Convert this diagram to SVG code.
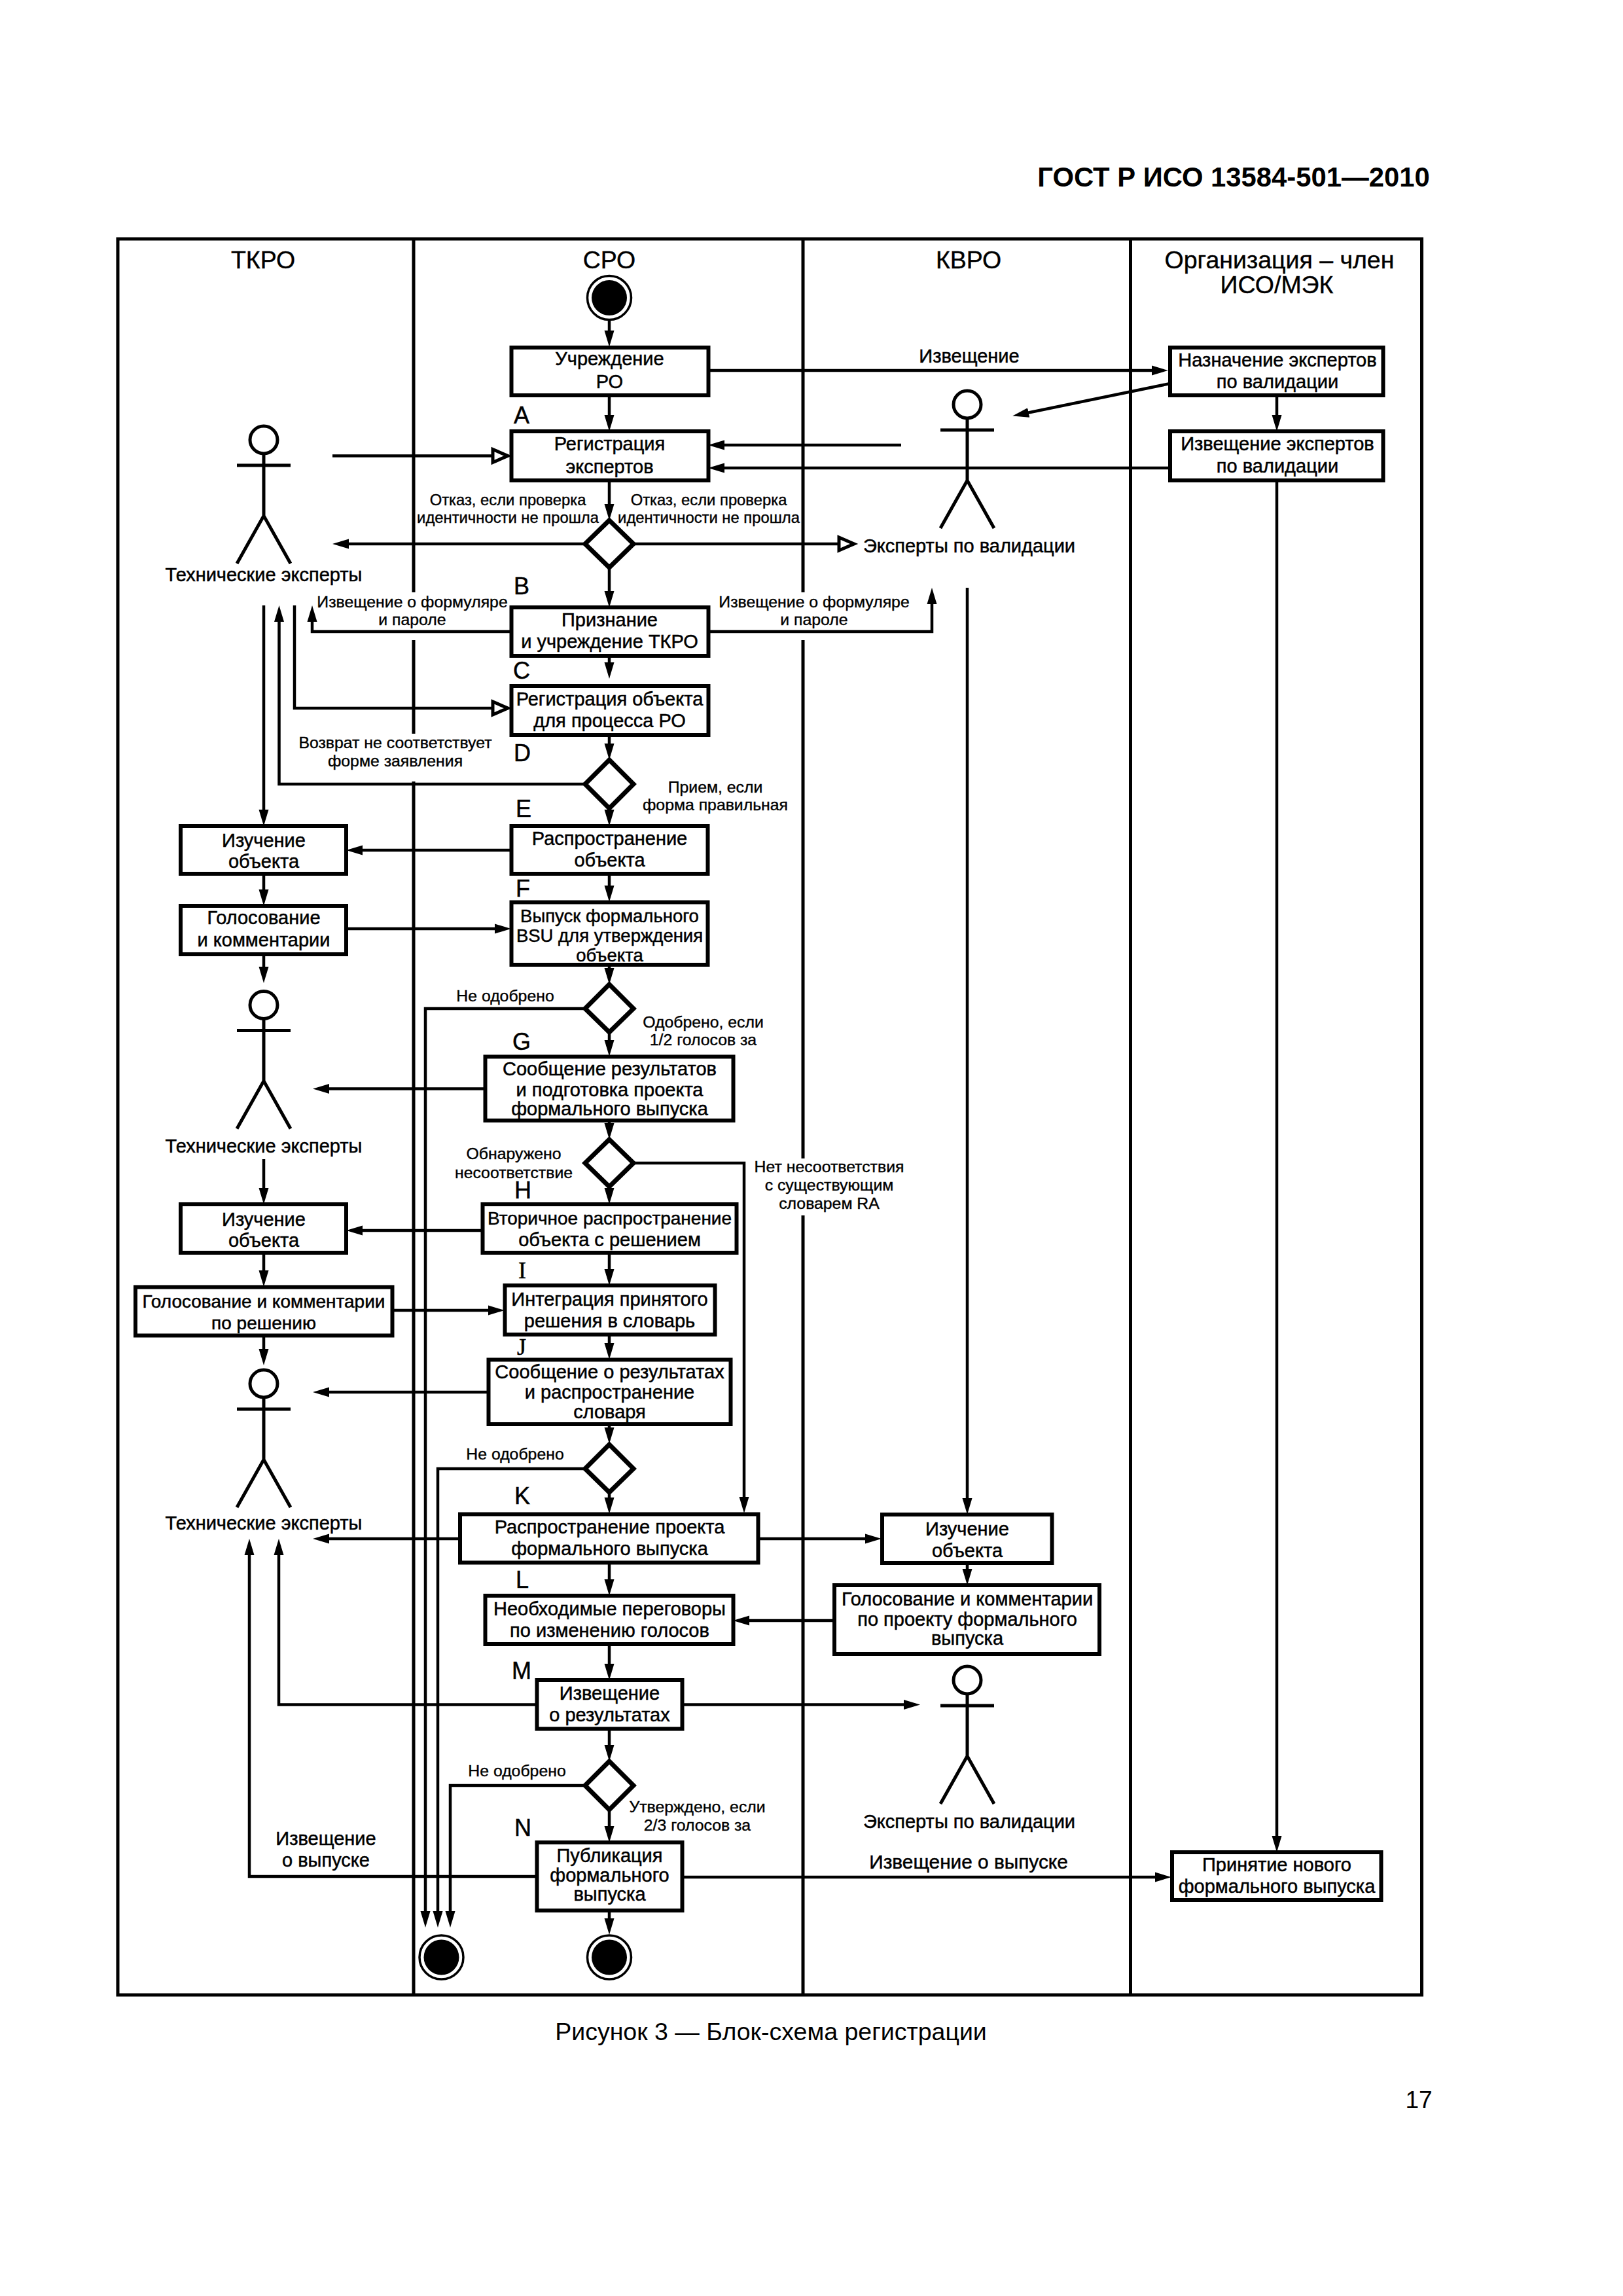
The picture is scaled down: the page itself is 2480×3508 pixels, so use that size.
<svg xmlns="http://www.w3.org/2000/svg" width="2480" height="3508" viewBox="0 0 2480 3508">
<style>
text{font-family:"Liberation Sans",Arial,sans-serif;fill:#000;text-anchor:middle}
.h{font-size:37.500px;stroke:#000;stroke-width:.4}
.b{font-size:29px;stroke:#000;stroke-width:.5}
.b2{font-size:28px;stroke:#000;stroke-width:.5}
.b3{font-size:27.500px;stroke:#000;stroke-width:.5}
.s{font-size:24.800px;stroke:#000;stroke-width:.4}
.s2{font-size:23.800px;stroke:#000;stroke-width:.4}
.l{font-size:36px;text-anchor:start;stroke:#000;stroke-width:.5}
.lt{font-size:36px;text-anchor:start;font-family:"Liberation Serif",serif;stroke:#000;stroke-width:.5}
.box{fill:#fff;stroke:#000;stroke-width:6}
.dia{fill:#fff;stroke:#000;stroke-width:7}
.frame{fill:none;stroke:#000;stroke-width:5}
.c{fill:none;stroke:#000;stroke-width:4.500}
.f{marker-end:url(#arrow)}
.o{marker-end:url(#hollow)}
.act{fill:none;stroke:#000;stroke-width:5}
</style>
<defs>
<marker id="arrow" markerUnits="userSpaceOnUse" markerWidth="27" markerHeight="17" refX="15" refY="8" orient="auto"><path d="M0,0.5 L25,8 L0,15.500 z" fill="#000"/></marker>
<marker id="hollow" markerUnits="userSpaceOnUse" markerWidth="36" markerHeight="30" refX="4" refY="15" orient="auto"><path d="M4,5 L27,15 L4,25 z" fill="#fff" stroke="#000" stroke-width="5"/></marker>
<g id="actor"><circle cx="0" cy="0" r="21" class="act"/><path d="M0,21 V116 M-41,39 H41 M-41,189 L0,116 L41,189" class="act"/></g>
<g id="term"><circle cx="0" cy="0" r="33.500" fill="#fff" stroke="#000" stroke-width="3.500"/><circle cx="0" cy="0" r="27" fill="#000"/></g>
</defs>

<g id="page">
<text x="1885" y="285" font-size="41.800" font-weight="bold">ГОСТ Р ИСО 13584-501—2010</text>
<text x="1178" y="3117" font-size="37.500">Рисунок 3 — Блок-схема регистрации</text>
<text x="2168" y="3221" font-size="37">17</text>
</g>

<g id="lanes">
<rect x="180" y="365" width="1992.500" height="2683" class="frame"/>
<path d="M632 365V905M632 978V1121M632 1194V3048M1227 365V905M1227 978V1770M1227 1857V3048M1727.500 365V3048" class="frame"/>
<text x="402" y="410" class="h">ТКРО</text>
<text x="931" y="410" class="h">СРО</text>
<text x="1480" y="410" class="h">КВРО</text>
<text x="1955" y="410" class="h">Организация – член</text>
<text x="1951" y="448" class="h">ИСО/МЭК</text>
</g>

<g id="connectors">
<path class="c f" d="M931 489V520"/>
<path class="c f" d="M931 604V649"/>
<path class="c f" d="M931 734V785"/>
<path class="c f" d="M931 867V918"/>
<path class="c f" d="M931 1002V1027"/>
<path class="c f" d="M931 1123V1151"/>
<path class="c f" d="M931 1235V1252"/>
<path class="c f" d="M931 1335V1368"/>
<path class="c f" d="M931 1474V1494"/>
<path class="c f" d="M931 1577V1604"/>
<path class="c f" d="M931 1712V1731"/>
<path class="c f" d="M931 1813V1830"/>
<path class="c f" d="M931 1914V1954"/>
<path class="c f" d="M931 2039V2067"/>
<path class="c f" d="M931 2176V2196"/>
<path class="c f" d="M931 2280V2303"/>
<path class="c f" d="M931 2387V2428"/>
<path class="c f" d="M931 2512V2557"/>
<path class="c f" d="M931 2641V2681"/>
<path class="c f" d="M931 2765V2805"/>
<path class="c f" d="M931 2919V2946"/>
<path class="c f" d="M1082 566H1775"/>
<path class="c f" d="M1788 586L1557 633.500"/>
<path class="c f" d="M1951 604V649"/>
<path class="c f" d="M1951 734V2820"/>
<path class="c f" d="M1788 715H1092"/>
<path class="c f" d="M1377 680H1092"/>
<path class="c o" d="M508 696.500H753"/>
<path class="c f" d="M894 831H518"/>
<path class="c o" d="M968 831H1282"/>
<path class="c f" d="M781 965H477V935"/>
<path class="c f" d="M1082 965H1424V908"/>
<path class="c f" d="M403 925V1252"/>
<path class="c f" d="M894 1198H426.500V935"/>
<path class="c o" d="M450 925V1082H753"/>
<path class="c f" d="M403 1335V1374"/>
<path class="c f" d="M403 1458V1492"/>
<path class="c f" d="M781 1299H539"/>
<path class="c f" d="M529 1419H771"/>
<path class="c f" d="M894 1541H650V2935"/>
<path class="c f" d="M741 1663.500H488"/>
<path class="c f" d="M403 1771V1830"/>
<path class="c f" d="M737 1880H539"/>
<path class="c f" d="M403 1914V1956"/>
<path class="c f" d="M403 2040V2076"/>
<path class="c f" d="M599 2002H761"/>
<path class="c f" d="M746 2127H488"/>
<path class="c f" d="M968 1777H1137V2302"/>
<path class="c f" d="M894 2244H669V2935"/>
<path class="c f" d="M894 2728H688V2935"/>
<path class="c f" d="M703 2351H488"/>
<path class="c f" d="M1158 2351H1337"/>
<path class="c f" d="M1478 898V2304"/>
<path class="c f" d="M1478 2388V2412"/>
<path class="c f" d="M1275 2476H1130"/>
<path class="c f" d="M820 2604.500H426V2361"/>
<path class="c f" d="M1042 2604.500H1396"/>
<path class="c f" d="M820 2867H381V2361"/>
<path class="c f" d="M1042 2868H1780"/>
</g>

<g id="start"><use href="#term" x="931" y="455"/></g>
<g id="end1"><use href="#term" x="674.500" y="2990.500"/></g>
<g id="end2"><use href="#term" x="931" y="2990.500"/></g>

<g id="actor1"><use href="#actor" x="403" y="672"/><text x="403" y="888" class="b">Технические эксперты</text></g>
<g id="actor2"><use href="#actor" x="403" y="1535.500"/><text x="403" y="1761" class="b">Технические эксперты</text></g>
<g id="actor3"><use href="#actor" x="403" y="2114"/><text x="403" y="2337" class="b">Технические эксперты</text></g>
<g id="actor4"><use href="#actor" x="1478" y="618"/><text x="1481" y="844" class="b">Эксперты по валидации</text></g>
<g id="actor5"><use href="#actor" x="1478" y="2567"/><text x="1481" y="2793" class="b">Эксперты по валидации</text></g>

<g id="n-uchr"><rect x="781.500" y="531" width="301" height="73" class="box"/><text x="931.500" y="558" class="b">Учреждение</text><text x="931.500" y="592.600" class="b">РО</text></g>
<g id="n-a"><rect x="781.500" y="659" width="301" height="75" class="box"/><text x="931.500" y="688" class="b">Регистрация</text><text x="931.500" y="723" class="b">экспертов</text></g>
<g id="n-d1"><polygon points="931,795 968,831 931,867 894,831" class="dia"/></g>
<g id="n-b"><rect x="781.500" y="928" width="301" height="74" class="box"/><text x="931.500" y="957" class="b">Признание</text><text x="931.500" y="990" class="b">и учреждение ТКРО</text></g>
<g id="n-c"><rect x="781.500" y="1048" width="301" height="75" class="box"/><text x="931.500" y="1078" class="b">Регистрация объекта</text><text x="931.500" y="1111" class="b">для процесса РО</text></g>
<g id="n-d2"><polygon points="931,1161 968,1198 931,1235 894,1198" class="dia"/></g>
<g id="n-e"><rect x="781.500" y="1262" width="300" height="73" class="box"/><text x="931.500" y="1291" class="b">Распространение</text><text x="931.500" y="1324" class="b">объекта</text></g>
<g id="n-f"><rect x="781.500" y="1378.500" width="300" height="95.500" class="box"/><text x="931.500" y="1409" class="b3">Выпуск формального</text><text x="931.500" y="1439" class="b3">BSU для утверждения</text><text x="931.500" y="1469" class="b3">объекта</text></g>
<g id="n-d3"><polygon points="931,1504 968,1541 931,1577 894,1541" class="dia"/></g>
<g id="n-g"><rect x="741.500" y="1614.500" width="379" height="97.500" class="box"/><text x="931.500" y="1643" class="b">Сообщение результатов</text><text x="931.500" y="1674.500" class="b">и подготовка проекта</text><text x="931.500" y="1704" class="b">формального выпуска</text></g>
<g id="n-d4"><polygon points="931,1741 968,1777 931,1813 894,1777" class="dia"/></g>
<g id="n-h"><rect x="737.500" y="1840" width="388" height="74" class="box"/><text x="931.500" y="1871" class="b2">Вторичное распространение</text><text x="931.500" y="1904" class="b">объекта с решением</text></g>
<g id="n-i"><rect x="771.500" y="1964" width="321" height="75" class="box"/><text x="931.500" y="1994.600" class="b">Интеграция принятого</text><text x="931.500" y="2028" class="b">решения в словарь</text></g>
<g id="n-j"><rect x="746.500" y="2077.500" width="370" height="98.500" class="box"/><text x="931.500" y="2106" class="b">Сообщение о результатах</text><text x="931.500" y="2137" class="b">и распространение</text><text x="931.500" y="2167" class="b">словаря</text></g>
<g id="n-d5"><polygon points="931,2207 968,2244 931,2280 894,2244" class="dia"/></g>
<g id="n-k"><rect x="703" y="2313.500" width="455.500" height="74" class="box"/><text x="931.500" y="2343" class="b">Распространение проекта</text><text x="931.500" y="2376" class="b">формального выпуска</text></g>
<g id="n-l"><rect x="741.500" y="2438" width="379" height="74" class="box"/><text x="931.500" y="2467.600" class="b">Необходимые переговоры</text><text x="931.500" y="2501" class="b">по изменению голосов</text></g>
<g id="n-m"><rect x="820.500" y="2567" width="222" height="74.500" class="box"/><text x="931.500" y="2597" class="b">Извещение</text><text x="931.500" y="2630" class="b">о результатах</text></g>
<g id="n-d6"><polygon points="931,2691 968,2728 931,2765 894,2728" class="dia"/></g>
<g id="n-n"><rect x="820.500" y="2815" width="222" height="104" class="box"/><text x="931.500" y="2844.500" class="b">Публикация</text><text x="931.500" y="2875" class="b">формального</text><text x="931.500" y="2904" class="b">выпуска</text></g>

<g id="n-nazn"><rect x="1788" y="531" width="325.500" height="73" class="box"/><text x="1952" y="560" class="b">Назначение экспертов</text><text x="1952" y="593" class="b">по валидации</text></g>
<g id="n-izv"><rect x="1788" y="659" width="325.500" height="75" class="box"/><text x="1952" y="688" class="b">Извещение экспертов</text><text x="1952" y="722" class="b">по валидации</text></g>
<g id="n-prin"><rect x="1791" y="2830" width="319.500" height="73" class="box"/><text x="1951" y="2859" class="b">Принятие нового</text><text x="1951" y="2892" class="b">формального выпуска</text></g>
<g id="n-kv1"><rect x="1348" y="2314" width="259.500" height="74" class="box"/><text x="1478" y="2345.500" class="b">Изучение</text><text x="1478" y="2379" class="b">объекта</text></g>
<g id="n-kv2"><rect x="1275" y="2422" width="405" height="105" class="box"/><text x="1478" y="2453" class="b">Голосование и комментарии</text><text x="1478" y="2483.600" class="b">по проекту формального</text><text x="1478" y="2513" class="b">выпуска</text></g>
<g id="n-t1"><rect x="276" y="1262" width="253" height="73" class="box"/><text x="403" y="1294" class="b">Изучение</text><text x="403" y="1326" class="b">объекта</text></g>
<g id="n-t2"><rect x="276" y="1384" width="253" height="74" class="box"/><text x="403" y="1412" class="b">Голосование</text><text x="403" y="1445.500" class="b">и комментарии</text></g>
<g id="n-t3"><rect x="276" y="1840" width="253" height="74" class="box"/><text x="403" y="1873" class="b">Изучение</text><text x="403" y="1905" class="b">объекта</text></g>
<g id="n-t4"><rect x="207" y="1966.500" width="392.500" height="74" class="box"/><text x="403" y="1998" class="b2">Голосование и комментарии</text><text x="403" y="2031" class="b2">по решению</text></g>

<g id="letters">
<text x="785" y="647" class="l">A</text><text x="785" y="908" class="l">B</text><text x="784" y="1037" class="l">C</text><text x="785" y="1162.600" class="l">D</text>
<text x="788" y="1248" class="l">E</text><text x="788" y="1370" class="l">F</text><text x="783" y="1604" class="l">G</text><text x="786" y="1831" class="l">H</text>
<text x="792" y="1952.500" class="lt">I</text><text x="790" y="2070" class="lt">J</text><text x="786" y="2298" class="l">K</text><text x="788" y="2426" class="l">L</text>
<text x="782" y="2565" class="l">M</text><text x="786" y="2804.500" class="l">N</text>
</g>
<g id="labels">
<text x="776" y="772" class="s2">Отказ, если проверка</text><text x="776" y="799" class="s2">идентичности не прошла</text>
<text x="1083" y="772" class="s2">Отказ, если проверка</text><text x="1083" y="799" class="s2">идентичности не прошла</text>
<text x="630" y="928" class="s">Извещение о формуляре</text><text x="630" y="955" class="s">и пароле</text>
<text x="1244" y="928" class="s">Извещение о формуляре</text><text x="1244" y="955" class="s">и пароле</text>
<text x="604" y="1142.500" class="s">Возврат не соответствует</text><text x="604" y="1171" class="s">форме заявления</text>
<text x="1093" y="1211" class="s">Прием, если</text><text x="1093" y="1238" class="s">форма правильная</text>
<text x="1481" y="553.500" class="b">Извещение</text>
<text x="772" y="1530" class="s">Не одобрено</text>
<text x="1074.500" y="1570" class="s">Одобрено, если</text><text x="1074.500" y="1597" class="s">1/2 голосов за</text>
<text x="785" y="1771" class="s">Обнаружено</text><text x="785" y="1799.500" class="s">несоответствие</text>
<text x="1267" y="1791" class="s">Нет несоответствия</text><text x="1267" y="1819" class="s">с существующим</text><text x="1267" y="1847" class="s">словарем RA</text>
<text x="787" y="2230" class="s">Не одобрено</text>
<text x="790" y="2713.600" class="s">Не одобрено</text>
<text x="1065.500" y="2769" class="s">Утверждено, если</text><text x="1065.500" y="2797" class="s">2/3 голосов за</text>
<text x="498" y="2818.500" class="b">Извещение</text><text x="498" y="2852" class="b">о выпуске</text>
<text x="1480" y="2854.500" style="font-size:29.800px;stroke:#000;stroke-width:.5">Извещение о выпуске</text>
</g>
</svg>
